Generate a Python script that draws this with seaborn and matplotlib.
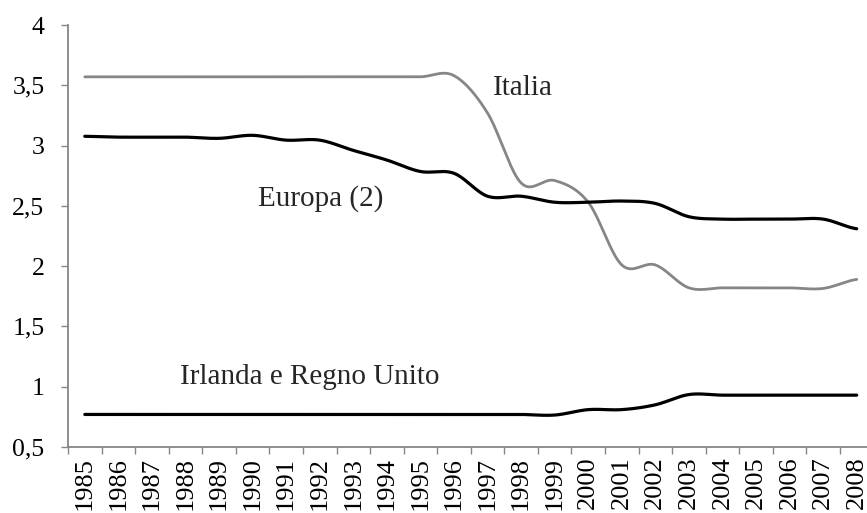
import numpy as np
import pandas as pd
import matplotlib
matplotlib.use("Agg")
import matplotlib.pyplot as plt
import seaborn as sns
from matplotlib.ticker import FuncFormatter, FixedLocator

years = list(range(1985, 2009))
italia = [3.57, 3.57, 3.57, 3.57, 3.57, 3.57, 3.57, 3.57, 3.57, 3.57, 3.57, 3.58,
          3.27, 2.69, 2.71, 2.53, 2.01, 2.01, 1.82, 1.82, 1.82, 1.82, 1.815, 1.89]
europa = [3.077, 3.07, 3.07, 3.07, 3.06, 3.085, 3.045, 3.045, 2.96, 2.88, 2.785, 2.77,
          2.58, 2.58, 2.53, 2.53, 2.54, 2.52, 2.41, 2.39, 2.39, 2.39, 2.39, 2.31]
irlanda = [0.77, 0.77, 0.77, 0.77, 0.77, 0.77, 0.77, 0.77, 0.77, 0.77, 0.77, 0.77,
           0.77, 0.77, 0.765, 0.81, 0.81, 0.85, 0.935, 0.93, 0.93, 0.93, 0.93, 0.93]
series_names = ["Italia", "Europa (2)", "Irlanda e Regno Unito"]
ytick_vals = [0.5, 1, 1.5, 2, 2.5, 3, 3.5, 4]


def smooth(y, n=20):
    """Catmull-Rom rendering of the series (like a spreadsheet's smoothed line)."""
    y = np.asarray(y, float)
    x = np.arange(len(y), dtype=float)
    xs, ys = [], []
    for i in range(len(y) - 1):
        p0 = y[i - 1] if i > 0 else y[i]
        p1, p2 = y[i], y[i + 1]
        p3 = y[i + 2] if i + 2 < len(y) else y[i + 1]
        t = np.linspace(0, 1, n, endpoint=False)
        yy = 0.5 * ((2 * p1) + (-p0 + p2) * t + (2 * p0 - 5 * p1 + 4 * p2 - p3) * t ** 2
                    + (-p0 + 3 * p1 - 3 * p2 + p3) * t ** 3)
        xs.extend(x[i] + t)
        ys.extend(yy)
    xs.append(x[-1]); ys.append(y[-1])
    return np.array(xs), np.array(ys)


frames = []
for name, vals in zip(series_names, [italia, europa, irlanda]):
    xs, ys = smooth(vals)
    frames.append(pd.DataFrame({"x": xs, "y": ys, "serie": name}))
df = pd.concat(frames, ignore_index=True)

sns.set_theme(style="white")
plt.rcParams["font.family"] = ["Liberation Serif", "DejaVu Serif"]

fig = plt.figure(figsize=(8.67, 5.13), dpi=100)
ax = fig.add_axes([68 / 867, 66 / 513, 805.5 / 867, 422 / 513])

sns.lineplot(data=df, x="x", y="y", hue="serie", ax=ax,
             palette={"Italia": "#868686", "Europa (2)": "#000000",
                      "Irlanda e Regno Unito": "#000000"},
             legend=False, sort=False, estimator=None)
for line, lw in zip(ax.get_lines(), [2.0, 2.3, 2.3]):
    line.set_linewidth(lw)

ax.set_xlim(-0.5, len(years) - 0.5)
ax.set_ylim(0.5, 4)
ax.set_xlabel("")
ax.set_ylabel("")

ax.yaxis.set_major_locator(FixedLocator(ytick_vals))
ax.yaxis.set_major_formatter(FuncFormatter(lambda v, p: ("%g" % v).replace(".", ",")))
ax.set_xticks(np.arange(len(years)))
ax.set_xticklabels([str(y) for y in years], rotation=90)
ax.set_xticks(np.arange(len(years) + 1) - 0.5, minor=True)
ax.tick_params(axis="x", which="major", length=0, labelsize=19, pad=7, colors="black")
ax.tick_params(axis="x", which="minor", length=5, width=1, color="#868686", direction="out")
ax.tick_params(axis="y", which="major", length=5, width=1, color="#868686",
               direction="out", labelsize=18.5, pad=12, labelcolor="black")
ax.xaxis.set_ticks_position("bottom")
ax.yaxis.set_ticks_position("left")

for s in ["top", "right"]:
    ax.spines[s].set_visible(False)
for s in ["left", "bottom"]:
    ax.spines[s].set_color("#868686")
    ax.spines[s].set_linewidth(1.3)
ax.grid(False)

ax.text(12.17, 3.48, "Italia", fontsize=21, va="center", ha="left")
ax.text(5.17, 2.56, "Europa (2)", fontsize=21, va="center", ha="left")
ax.text(2.85, 1.08, "Irlanda e Regno Unito", fontsize=21, va="center", ha="left")

fig.savefig("out.png", dpi=100)
